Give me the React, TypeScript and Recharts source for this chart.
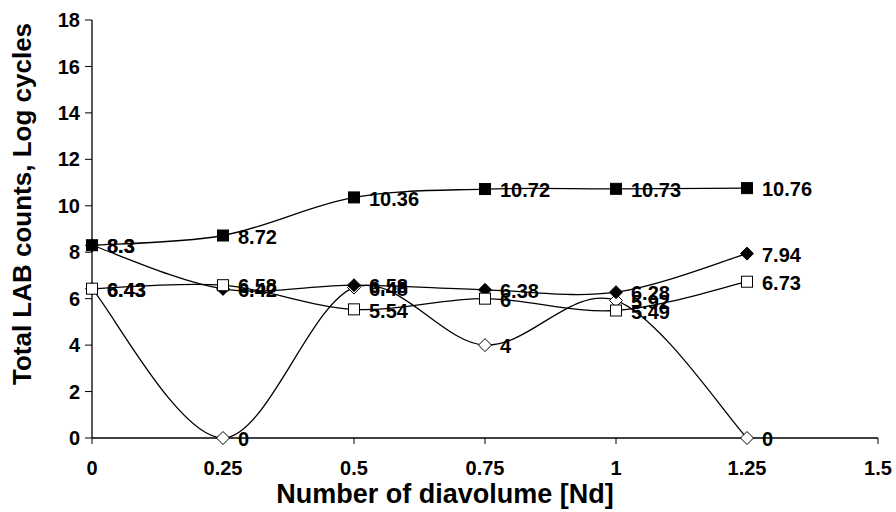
import React from "react";
import { LineChart, Line, XAxis, YAxis, LabelList, Label } from "recharts";

const xValues = [0, 0.25, 0.5, 0.75, 1, 1.25];
const filledSquare = [8.3, 8.72, 10.36, 10.72, 10.73, 10.76];
const filledDiamond = [8.3, 6.42, 6.58, 6.38, 6.28, 7.94];
const openSquare = [6.43, 6.58, 5.54, 6, 5.49, 6.73];
const openDiamond = [6.43, 0, 6.48, 4, 5.92, 0];
const xTicks = [0, 0.25, 0.5, 0.75, 1, 1.25, 1.5];
const yTicks = [0, 2, 4, 6, 8, 10, 12, 14, 16, 18];

const data = xValues.map((x, i) => ({
  x,
  fs: filledSquare[i],
  fd: filledDiamond[i],
  os: openSquare[i],
  od: openDiamond[i],
}));

const FONT = "'Liberation Sans', Arial, sans-serif";

function excelCurve(context: any) {
  let pts: number[][] = [];
  return {
    areaStart() {},
    areaEnd() {},
    lineStart() {
      pts = [];
    },
    point(x: number, y: number) {
      pts.push([+x, +y]);
    },
    lineEnd() {
      const n = pts.length;
      if (n === 0) return;
      context.moveTo(pts[0][0], pts[0][1]);
      const t = 1 / 6;
      for (let i = 0; i < n - 1; i++) {
        const p0 = pts[Math.max(i - 1, 0)];
        const p1 = pts[i];
        const p2 = pts[i + 1];
        const p3 = pts[Math.min(i + 2, n - 1)];
        context.bezierCurveTo(
          p1[0] + (p2[0] - p0[0]) * t,
          p1[1] + (p2[1] - p0[1]) * t,
          p2[0] - (p3[0] - p1[0]) * t,
          p2[1] - (p3[1] - p1[1]) * t,
          p2[0],
          p2[1]
        );
      }
    },
  };
}

const makeDot = (shape: "square" | "diamond", filled: boolean) => (props: any) => {
  const { cx, cy, index } = props;
  if (cx == null || cy == null) return <g key={index} />;
  const fill = filled ? "#000" : "#fff";
  if (shape === "square") {
    const s = 11;
    return (
      <rect key={index} x={cx - s / 2} y={cy - s / 2} width={s} height={s} fill={fill} stroke="#000" strokeWidth={1} />
    );
  }
  const r = 6.5;
  return (
    <polygon
      key={index}
      points={`${cx},${cy - r} ${cx + r},${cy} ${cx},${cy + r} ${cx - r},${cy}`}
      fill={fill}
      stroke="#000"
      strokeWidth={1}
    />
  );
};

const renderValue = (props: any) => {
  const { x, y, value, index } = props;
  return (
    <text
      key={index}
      x={x + 15}
      y={y + 1}
      dy="0.36em"
      textAnchor="start"
      fontFamily={FONT}
      fontWeight="bold"
      fontSize={20}
      fill="#000"
    >
      {value}
    </text>
  );
};

const series = [
  { key: "od", shape: "diamond" as const, filled: false },
  { key: "fd", shape: "diamond" as const, filled: true },
  { key: "os", shape: "square" as const, filled: false },
  { key: "fs", shape: "square" as const, filled: true },
];

const tickStyle = { fontFamily: FONT, fontWeight: "bold", fontSize: 20, fill: "#000" };

export default function App() {
  return (
    <div style={{ position: "absolute", left: 0, top: 0, width: 896, height: 512, background: "#fff" }}>
      <LineChart width={896} height={512} data={data} margin={{ top: 20, right: 18, left: 32, bottom: 14 }}>
        <XAxis
          dataKey="x"
          type="number"
          domain={[0, 1.5]}
          ticks={xTicks}
          axisLine={{ stroke: "#000", strokeWidth: 1.3 }}
          tickLine={{ stroke: "#000" }}
          tickSize={6}
          tickMargin={17}
          height={60}
          tick={tickStyle}
        >
          <Label
            content={(p: any) => {
              const vb = p.viewBox;
              return (
                <text
                  x={vb.x + vb.width / 2 - 40}
                  y={vb.y + 55}
                  dy="0.36em"
                  textAnchor="middle"
                  fontFamily={FONT}
                  fontWeight="bold"
                  fontSize={27}
                  fill="#000"
                >
                  Number of diavolume [Nd]
                </text>
              );
            }}
          />
        </XAxis>
        <YAxis
          type="number"
          domain={[0, 18]}
          ticks={yTicks}
          axisLine={{ stroke: "#000", strokeWidth: 1.3 }}
          tickLine={{ stroke: "#000" }}
          tickSize={7}
          tickMargin={5}
          width={60}
          tick={tickStyle}
        >
          <Label
            content={(p: any) => {
              const vb = p.viewBox;
              const cx = vb.x - 10;
              const cy = vb.y + vb.height / 2 - 25;
              return (
                <text
                  x={0}
                  y={0}
                  transform={`translate(${cx},${cy}) rotate(-90)`}
                  dy="0.36em"
                  textAnchor="middle"
                  fontFamily={FONT}
                  fontWeight="bold"
                  fontSize={26}
                  fill="#000"
                >
                  Total LAB counts, Log cycles
                </text>
              );
            }}
          />
        </YAxis>
        {series.map((s) => (
          <Line
            key={s.key}
            dataKey={s.key}
            type={excelCurve as any}
            stroke="#000"
            strokeWidth={1.3}
            dot={makeDot(s.shape, s.filled)}
            activeDot={false}
            isAnimationActive={false}
          >
            <LabelList dataKey={s.key} content={renderValue} />
          </Line>
        ))}
      </LineChart>
    </div>
  );
}
